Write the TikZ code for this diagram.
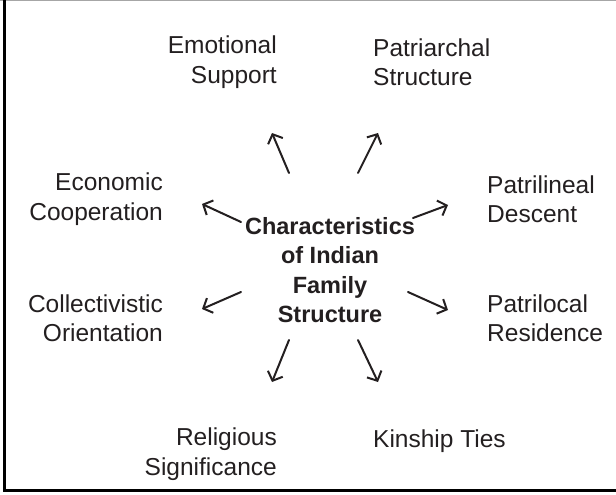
\documentclass[tikz,border=0pt]{standalone}
\usepackage{fontspec}
\setmainfont{Liberation Sans}
\usetikzlibrary{arrows.meta}
\definecolor{ink}{RGB}{35,31,32}
\begin{document}
\begin{tikzpicture}[x=1pt,y=-1pt,
  lbl/.style={font=\fontsize{24.5}{29.5}\selectfont, text=ink, inner sep=0pt},
  ctr/.style={font=\fontsize{23.5}{29.5}\selectfont\bfseries, text=ink, inner sep=0pt, align=center},
  arr/.style={draw=ink, line width=2pt, line cap=round, -{Straight Barb[length=7.5pt,width=16pt]}}]
\useasboundingbox (0,0) rectangle (616,495);
\draw[gray!70, line width=1pt] (0,0.5) -- (616,0.5);
\draw[black, line width=3pt] (4.5,0) -- (4.5,490.5) -- (616,490.5);

\node[lbl, align=right, anchor=east] (emo) at (277,62) {Emotional\\Support};
\node[lbl, align=left, anchor=west] (pat) at (373,62) {Patriarchal\\Structure};
\node[lbl, align=right, anchor=east] (eco) at (163,199) {Economic\\Cooperation};
\node[lbl, align=left, anchor=west] (pln) at (487,199) {Patrilineal\\Descent};
\node[lbl, align=right, anchor=east] (col) at (163,318) {Collectivistic\\Orientation};
\node[lbl, align=left, anchor=west] (plc) at (487,318) {Patrilocal\\Residence};
\node[lbl, align=right, anchor=east] (rel) at (277,454) {Religious\\Significance};
\node[lbl, anchor=west] (kin) at (373,441) {Kinship Ties};
\node[ctr] (c) at (330,270) {Characteristics\\of Indian\\Family\\Structure};

\coordinate (a1s) at (289,173); \coordinate (a1e) at (272,133);
\coordinate (a2s) at (358,173); \coordinate (a2e) at (378,133);
\coordinate (a3s) at (241,222); \coordinate (a3e) at (202,204);
\coordinate (a4s) at (413,218); \coordinate (a4e) at (448,205);
\coordinate (a5s) at (241,292); \coordinate (a5e) at (202,309);
\coordinate (a6s) at (408,292); \coordinate (a6e) at (448,310);
\coordinate (a7s) at (289,340); \coordinate (a7e) at (272,382);
\coordinate (a8s) at (358,340); \coordinate (a8e) at (378,382);
\foreach \i in {1,...,8} \draw[arr] (a\i s) -- (a\i e);
\end{tikzpicture}
\end{document}
